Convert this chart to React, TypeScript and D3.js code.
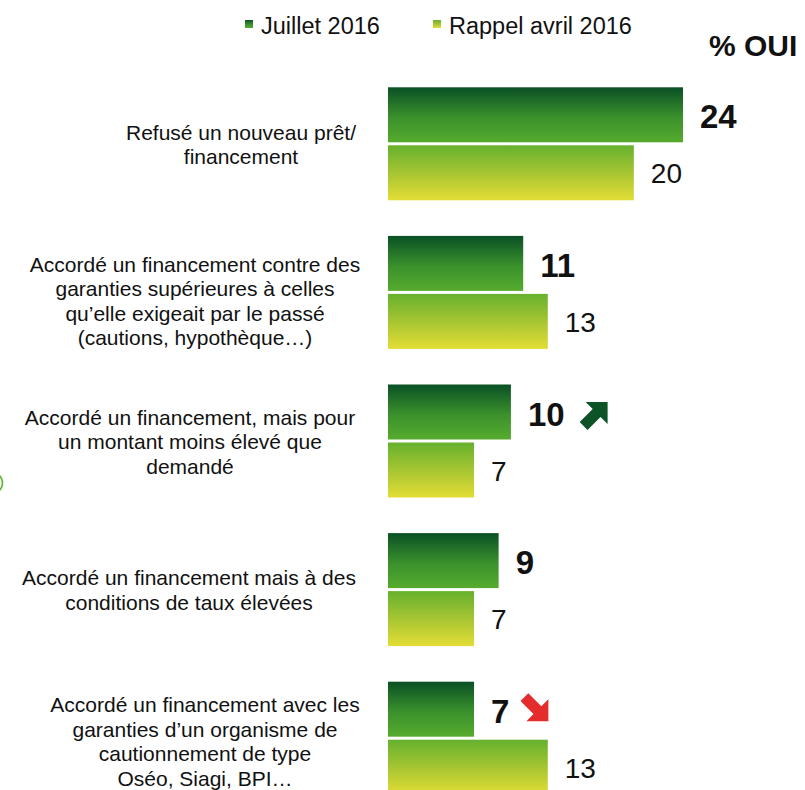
import React from "react";
import * as d3 from "d3";

const categories = ["refus", "garanties", "montant", "taux", "organisme"];
const categoryLabels: string[][] = [
  ["Refusé un nouveau prêt/", "financement"],
  ["Accordé un financement contre des", "garanties supérieures à celles", "qu’elle exigeait par le passé", "(cautions, hypothèque…)"],
  ["Accordé un financement, mais pour", "un montant moins élevé que", "demandé"],
  ["Accordé un financement mais à des", "conditions de taux élevées"],
  ["Accordé un financement avec les", "garanties d’un organisme de", "cautionnement de type", "Oséo, Siagi, BPI…"],
];
const seriesNames = ["Juillet 2016", "Rappel avril 2016"];
const juillet2016 = [24, 11, 10, 9, 7];
const avril2016 = [20, 13, 7, 7, 13];
const trends: (string | null)[] = [null, null, "up", null, "down"];
const unitLabel = "% OUI";

// layout (styles, not data)
const labelCenterX = [241, 195, 190, 189, 205];
const labelDy = [0, 8, 0, 0, 3];
const FONT = "'Liberation Sans', Arial, Helvetica, sans-serif";

const W = 805;
const H = 790;

export default function App() {
  const x = d3.scaleLinear().domain([0, 24]).range([388, 683]);
  const y = d3
    .scaleBand<string>()
    .domain(categories)
    .range([87.3, 794.7])
    .paddingInner(0.2396)
    .paddingOuter(0);
  const ySub = d3
    .scaleBand<string>()
    .domain(seriesNames)
    .range([0, y.bandwidth()])
    .paddingInner(0.0517);

  const series = [juillet2016, avril2016];
  const arrowUp =
    "M6,0 L28,0 L28,22 L20.9,14.9 L7.9,27.9 L0.1,20.1 L13.1,7.1 Z";
  const lineH = 24.5;

  return (
    <svg
      width={W}
      height={H}
      style={{ position: "absolute", left: 0, top: 0, background: "#fff" }}
      fontFamily={FONT}
    >
      <defs>
        <linearGradient id="gDark" x1="0" y1="0" x2="0" y2="1">
          <stop offset="0%" stopColor="#0a5025" />
          <stop offset="55%" stopColor="#3b912c" />
          <stop offset="100%" stopColor="#56ab2e" />
        </linearGradient>
        <linearGradient id="gLight" x1="0" y1="0" x2="0" y2="1">
          <stop offset="0%" stopColor="#66b12e" />
          <stop offset="50%" stopColor="#a6c532" />
          <stop offset="100%" stopColor="#e3dd35" />
        </linearGradient>
      </defs>

      {/* legend */}
      {seriesNames.map((name, i) => {
        const lx = [245, 433][i];
        return (
          <g key={name}>
            <rect x={lx} y={20} width={8} height={8} fill={i === 0 ? "url(#gDark)" : "url(#gLight)"} />
            <text x={lx + 16} y={33.5} fontSize={23.5} fill="#111">
              {name}
            </text>
          </g>
        );
      })}
      <text x={709} y={56} fontSize={30} fontWeight="bold" fill="#111">
        {unitLabel}
      </text>

      {/* decorative partial circle at left edge */}
      <circle cx={-8} cy={483} r={10.5} fill="none" stroke="#5ab42e" strokeWidth={1.6} />

      {categories.map((c, ci) => {
        const gy = y(c)!;
        const center = gy + y.bandwidth() / 2;
        const lines = categoryLabels[ci];
        const firstBase = center - ((lines.length - 1) / 2) * lineH + 8 + labelDy[ci];
        return (
          <g key={c}>
            <text textAnchor="middle" fontSize={21} fill="#111">
              {lines.map((ln, li) => (
                <tspan key={li} x={labelCenterX[ci]} y={firstBase + li * lineH}>
                  {ln}
                </tspan>
              ))}
            </text>
            {seriesNames.map((s, si) => {
              const v = series[si][ci];
              const by = gy + ySub(s)!;
              const bh = ySub.bandwidth();
              const bc = by + bh / 2;
              const labelX = x(v) + (si === 0 ? 17 : 17);
              const fs = si === 0 ? 33 : 28;
              const labelW = String(v).length * 0.556 * fs;
              const trend = si === 0 ? trends[ci] : null;
              return (
                <g key={s}>
                  <rect
                    x={x(0)}
                    y={by}
                    width={x(v) - x(0)}
                    height={bh}
                    fill={si === 0 ? "url(#gDark)" : "url(#gLight)"}
                  />
                  <text
                    x={labelX}
                    y={bc + (si === 0 ? 13.5 : 10.7)}
                    fontSize={fs}
                    fontWeight={si === 0 ? "bold" : "normal"}
                    fill="#111"
                  >
                    {v}
                  </text>
                  {trend && (
                    <g
                      transform={
                        trend === "up"
                          ? `translate(${labelX + labelW + 15},${bc - 10})`
                          : `translate(${labelX + labelW + 11},${bc - 16}) translate(0,28) scale(1,-1)`
                      }
                    >
                      <path d={arrowUp} fill={trend === "up" ? "#0c5428" : "#e42c2c"} />
                    </g>
                  )}
                </g>
              );
            })}
          </g>
        );
      })}
    </svg>
  );
}
